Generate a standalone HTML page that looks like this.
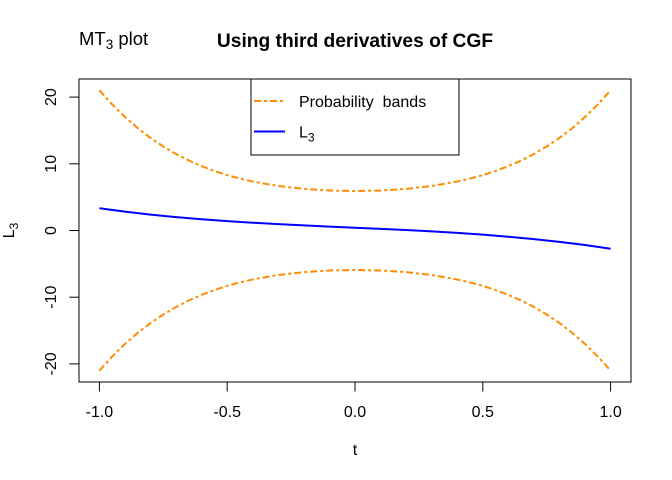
<!DOCTYPE html>
<html>
<head>
<meta charset="utf-8">
<style>
html,body{margin:0;padding:0;background:#fff;}
svg{display:block;}
text{font-family:"Liberation Sans",Arial,sans-serif;fill:#000;}
</style>
</head>
<body>
<svg width="672" height="480" viewBox="0 0 672 480" xmlns="http://www.w3.org/2000/svg">
<rect x="0" y="0" width="672" height="480" fill="#fff"/>

<!-- titles -->
<text x="79" y="45" font-size="18.5">MT<tspan font-size="13.5" dy="4">3</tspan><tspan dy="-4"> plot</tspan></text>
<text x="355" y="47" font-size="19.2" font-weight="bold" text-anchor="middle">Using third derivatives of CGF</text>

<!-- bands -->
<g fill="none" stroke="#FF8C00" stroke-width="2" stroke-dasharray="7 3 3 3" stroke-linejoin="round">
<polyline points="99.4,90.30 112.2,104.46 124.96,117.03 137.7,128.14 150.5,137.93 163.3,146.50 176.1,154.0 188.9,160.50 201.6,166.13 214.4,170.96 227.2,175.09 240.0,178.59 252.8,181.54 278.3,185.99 303.9,188.88 329.4,190.49 355,191.01 380.6,190.49 406.1,188.88 431.7,185.99 457.2,181.54 470.0,178.59 482.8,175.09 495.6,170.96 508.4,166.13 521.1,160.50 533.9,154.0 546.7,146.50 559.5,137.93 572.3,128.14 585.0,117.03 597.8,104.46 610.6,90.30"/>
<polyline points="99.4,370.70 112.2,356.54 124.96,343.97 137.7,332.86 150.5,323.07 163.3,314.50 176.1,307.0 188.9,300.50 201.6,294.87 214.4,290.04 227.2,285.91 240.0,282.41 252.8,279.46 278.3,275.01 303.9,272.12 329.4,270.51 355,269.99 380.6,270.51 406.1,272.12 431.7,275.01 457.2,279.46 470.0,282.41 482.8,285.91 495.6,290.04 508.4,294.87 521.1,300.50 533.9,307.0 546.7,314.50 559.5,323.07 572.3,332.86 585.0,343.97 597.8,356.54 610.6,370.70"/>
</g>

<!-- L3 -->
<polyline fill="none" stroke="#0000FF" stroke-width="2" stroke-linejoin="round" points="99.4,208.22 124.96,211.64 150.5,214.59 176.1,217.11 201.6,219.28 227.2,221.14 252.8,222.74 278.3,224.14 303.9,225.40 329.4,226.57 355,227.70 380.6,228.85 406.1,230.06 431.7,231.39 457.2,232.91 482.8,234.66 508.4,236.70 533.9,239.07 559.5,241.84 585.0,245.05 610.6,248.78"/>

<!-- plot box -->
<rect x="79" y="79" width="552" height="303" fill="none" stroke="#000" stroke-width="1"/>

<!-- x axis ticks -->
<g stroke="#000" stroke-width="1">
<line x1="99.4" y1="382" x2="99.4" y2="391.5"/>
<line x1="227.2" y1="382" x2="227.2" y2="391.5"/>
<line x1="355" y1="382" x2="355" y2="391.5"/>
<line x1="482.8" y1="382" x2="482.8" y2="391.5"/>
<line x1="610.6" y1="382" x2="610.6" y2="391.5"/>
<line x1="99.4" y1="382" x2="610.6" y2="382"/>
</g>
<g font-size="16" text-anchor="middle">
<text x="99.4" y="417">-1.0</text>
<text x="227.2" y="417">-0.5</text>
<text x="355" y="417">0.0</text>
<text x="482.8" y="417">0.5</text>
<text x="610.6" y="417">1.0</text>
</g>
<text x="355" y="455" font-size="16" text-anchor="middle">t</text>

<!-- y axis ticks -->
<g stroke="#000" stroke-width="1">
<line x1="69.4" y1="97.1" x2="79" y2="97.1"/>
<line x1="69.4" y1="163.8" x2="79" y2="163.8"/>
<line x1="69.4" y1="230.5" x2="79" y2="230.5"/>
<line x1="69.4" y1="297.2" x2="79" y2="297.2"/>
<line x1="69.4" y1="363.9" x2="79" y2="363.9"/>
<line x1="79" y1="97.1" x2="79" y2="363.9"/>
</g>
<g font-size="16" text-anchor="middle">
<text transform="translate(56,97.1) rotate(-90)">20</text>
<text transform="translate(56,163.8) rotate(-90)">10</text>
<text transform="translate(56,230.5) rotate(-90)">0</text>
<text transform="translate(56,297.2) rotate(-90)">-10</text>
<text transform="translate(56,363.9) rotate(-90)">-20</text>
</g>
<text transform="translate(14,230.5) rotate(-90)" font-size="16" text-anchor="middle">L<tspan font-size="12" dy="4">3</tspan></text>

<!-- legend -->
<rect x="251" y="79" width="208" height="76" fill="#fff" stroke="#000" stroke-width="1"/>
<line x1="254" y1="101" x2="285" y2="101" stroke="#FF8C00" stroke-width="2" stroke-dasharray="7 3 3 3"/>
<line x1="254" y1="131.5" x2="285" y2="131.5" stroke="#0000FF" stroke-width="2"/>
<text x="299" y="107" font-size="16" xml:space="preserve">Probability  bands</text>
<text x="299" y="137.3" font-size="16">L<tspan font-size="12" dy="4">3</tspan></text>
</svg>
</body>
</html>
